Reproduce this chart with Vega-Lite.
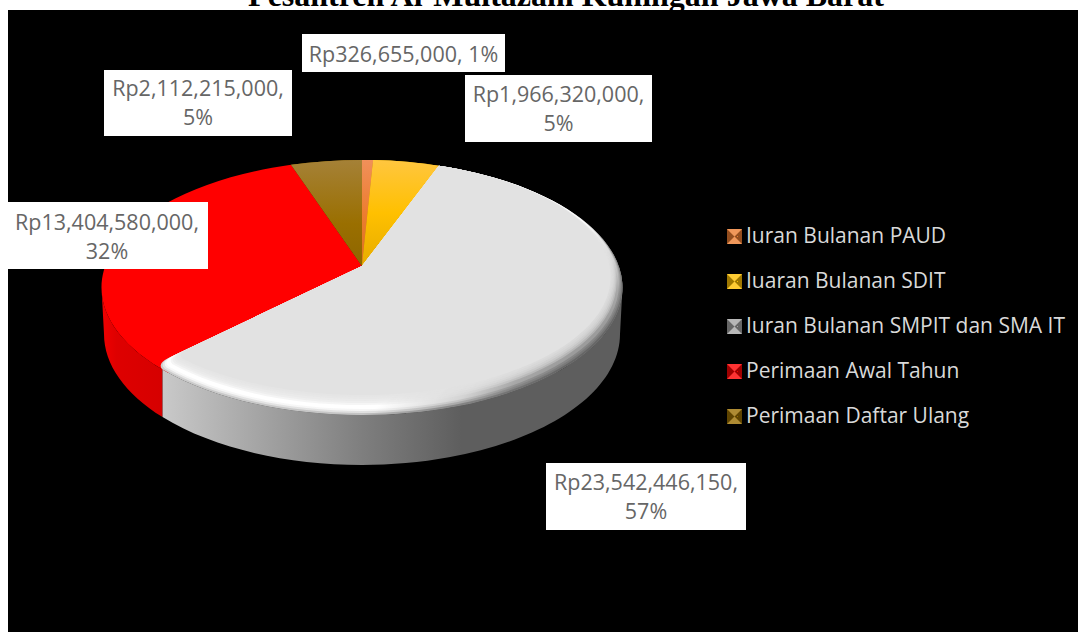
{
  "$schema": "https://vega.github.io/schema/vega-lite/v6.json",
  "width": 1070,
  "height": 622,
  "autosize": {"type": "none"},
  "padding": {"left": 8, "top": 10, "right": 0, "bottom": 0},
  "background": "#ffffff",
  "config": {"view": {"fill": "#000000", "stroke": null}},
  "data": {
    "values": [
      {"item": "Iuran Bulanan PAUD", "value": 326655000, "label": "Rp326,655,000, 1%"},
      {"item": "Iuaran Bulanan SDIT", "value": 1966320000, "label": "Rp1,966,320,000,\n5%"},
      {"item": "Iuran Bulanan SMPIT dan SMA IT", "value": 23542446150, "label": "Rp23,542,446,150,\n57%"},
      {"item": "Perimaan Awal Tahun", "value": 13404580000, "label": "Rp13,404,580,000,\n32%"},
      {"item": "Perimaan Daftar Ulang", "value": 2112215000, "label": "Rp2,112,215,000,\n5%"}
    ]
  },
  "transform": [
    {"window": [{"op": "sum", "field": "value", "as": "cum"}, {"op": "row_number", "as": "n"}]},
    {"joinaggregate": [{"op": "sum", "field": "value", "as": "total"}]},
    {"calculate": "2*PI*datum.cum/datum.total", "as": "a1"},
    {"calculate": "datum.a1-2*PI*datum.value/datum.total", "as": "a0"},
    {"calculate": "[0,0.1,0.2,0.3,0.5,0.6,0.7,0.8,0.9,1]", "as": "s"},
    {"flatten": ["s"]},
    {"calculate": "260.5-12*datum.s", "as": "rx"},
    {"calculate": "127.5-10*datum.s", "as": "ry"},
    {"calculate": "21.5-10*datum.s", "as": "ey"},
    {"calculate": "2.11*sin(datum.a0)", "as": "dx0"},
    {"calculate": "-cos(datum.a0)", "as": "dy0"},
    {"calculate": "2.11*sin(datum.a1)", "as": "dx1"},
    {"calculate": "-cos(datum.a1)", "as": "dy1"},
    {"calculate": "pow(datum.ey/datum.ry,2)-1", "as": "C"},
    {"calculate": "pow(datum.dx0/datum.rx,2)+pow(datum.dy0/datum.ry,2)", "as": "A0"},
    {"calculate": "-2*datum.dy0*datum.ey/(datum.ry*datum.ry)", "as": "B0"},
    {"calculate": "(-datum.B0+sqrt(datum.B0*datum.B0-4*datum.A0*datum.C))/(2*datum.A0)", "as": "t0"},
    {"calculate": "pow(datum.dx1/datum.rx,2)+pow(datum.dy1/datum.ry,2)", "as": "A1"},
    {"calculate": "-2*datum.dy1*datum.ey/(datum.ry*datum.ry)", "as": "B1"},
    {"calculate": "(-datum.B1+sqrt(datum.B1*datum.B1-4*datum.A1*datum.C))/(2*datum.A1)", "as": "t1"},
    {"calculate": "round(100*datum.t0*datum.dx0)/100", "as": "x0"},
    {"calculate": "round(100*datum.t0*datum.dy0)/100", "as": "y0"},
    {"calculate": "round(100*datum.t1*datum.dx1)/100", "as": "x1"},
    {"calculate": "round(100*datum.t1*datum.dy1)/100", "as": "y1"},
    {"calculate": "datum.x1+8", "as": "xc"},
    {"calculate": "round(100*(datum.ey+datum.ry*sqrt(1-pow(datum.xc/datum.rx,2))))/100", "as": "yc"},
    {"calculate": "round(93*datum.x1)/100", "as": "x93"},
    {"calculate": "round(93*datum.y1)/100", "as": "y93"},
    {"calculate": "round(99*datum.x1)/100", "as": "x99"},
    {"calculate": "round(99*datum.y1)/100", "as": "y99"},
    {"calculate": "datum.item==='Perimaan Awal Tahun'?datum.x0+14:datum.x0", "as": "xs"},
    {"calculate": "datum.item==='Perimaan Awal Tahun'?round(100*(datum.ey+datum.ry*sqrt(1-pow(datum.xs/datum.rx,2))))/100:datum.y0", "as": "ys"},
    {"calculate": "'M0,0L'+datum.xs+','+datum.ys+'A'+datum.rx+','+datum.ry+' 0 '+(datum.a1-datum.a0>PI?1:0)+' 1 '+(datum.item==='Iuran Bulanan SMPIT dan SMA IT'?datum.xc+','+datum.yc+'Q'+datum.x99+','+datum.y99+' '+datum.x93+','+datum.y93:datum.x1+','+datum.y1)+'Z'", "as": "wedge"},
    {"calculate": "(datum.item==='Perimaan Awal Tahun'?datum.x0:datum.x1)+8", "as": "xw"},
    {"calculate": "round(100*(21.5+127.5*sqrt(1-pow(datum.xw/260.5,2))))/100", "as": "yT"},
    {"calculate": "round(100*(68+131*sqrt(1-pow(datum.xw/258,2))))/100", "as": "yB"},
    {"calculate": "datum.item==='Perimaan Awal Tahun'?'M-260.5,21.5A260.5,127.5 0 0 0 '+datum.xw+','+datum.yT+'L'+datum.xw+','+datum.yB+'A258,131 0 0 1 -258,68Z':'M'+datum.xw+','+datum.yT+'L'+datum.xw+','+datum.yB+'A258,131 0 0 0 258,68L260.5,21.5A260.5,127.5 0 0 1 '+datum.xw+','+datum.yT+'Z'", "as": "wall"},
    {"calculate": "datum.n===1?[294,497,24,62,46]:datum.n===2?[457,644,65,132,86]:datum.n===3?[538,738,453,520,474]:datum.n===4?[-2,200,192,259,213.5]:[96,284,60,126,79.5]", "as": "box"},
    {"calculate": "datum.box[0]", "as": "bx1"},
    {"calculate": "datum.box[1]", "as": "bx2"},
    {"calculate": "datum.box[2]", "as": "by1"},
    {"calculate": "datum.box[3]", "as": "by2"},
    {"calculate": "(datum.bx1+datum.bx2)/2", "as": "tx"},
    {"calculate": "datum.box[4]", "as": "ty"},
    {"calculate": "226.5+45*(datum.n-1)", "as": "ky"},
    {"calculate": "354", "as": "cx"},
    {"calculate": "256", "as": "cy"},
    {"calculate": "726.5", "as": "kx"}
  ],
  "encoding": {
    "x": {"field": "cx", "type": "quantitative", "scale": {"domain": [0, 1070], "nice": false, "zero": false}, "axis": null},
    "y": {"field": "cy", "type": "quantitative", "scale": {"domain": [0, 622], "nice": false, "zero": false, "reverse": true}, "axis": null}
  },
  "layer": [
    {
      "transform": [{"filter": "datum.s===0 && datum.item==='Perimaan Awal Tahun'"}],
      "mark": {"type": "point", "filled": true, "opacity": 1, "strokeWidth": 0, "size": 4, "fill": {"gradient": "linear", "x1": 0, "y1": 0, "x2": 1, "y2": 0, "stops": [{"offset": 0, "color": "#F00000"}, {"offset": 0.25, "color": "#DE0000"}, {"offset": 1, "color": "#D60000"}]}},
      "encoding": {"shape": {"field": "wall", "type": "nominal", "scale": null, "legend": null}}
    },
    {
      "transform": [{"filter": "datum.s===0 && datum.item==='Iuran Bulanan SMPIT dan SMA IT'"}],
      "mark": {"type": "point", "filled": true, "opacity": 1, "strokeWidth": 0, "size": 4, "fill": {"gradient": "linear", "x1": 0, "y1": 0, "x2": 1, "y2": 0, "stops": [{"offset": 0, "color": "#C9C9C9"}, {"offset": 0.2, "color": "#A6A6A6"}, {"offset": 0.43, "color": "#7F7F7F"}, {"offset": 0.65, "color": "#5E5E5E"}, {"offset": 1, "color": "#5E5E5E"}]}},
      "encoding": {"shape": {"field": "wall", "type": "nominal", "scale": null, "legend": null}}
    },
    {
      "transform": [{"filter": "datum.s===0"}],
      "mark": {"type": "point", "filled": true, "opacity": 1, "strokeWidth": 0, "size": 4},
      "encoding": {
        "shape": {"field": "wedge", "type": "nominal", "scale": null, "legend": null},
        "color": {
          "field": "item",
          "type": "nominal",
          "scale": {
            "domain": ["Iuran Bulanan PAUD", "Iuaran Bulanan SDIT", "Iuran Bulanan SMPIT dan SMA IT", "Perimaan Awal Tahun", "Perimaan Daftar Ulang"],
            "range": ["#ED7D31", "#FFC000", "#A5A5A5", "#FF0000", "#9A6F00"]
          },
          "legend": {
            "title": null,
            "orient": "none",
            "legendX": 719,
            "legendY": 216,
            "symbolType": "square",
            "symbolSize": 1,
            "symbolStrokeWidth": 0,
            "labelFont": "Open Sans",
            "labelFontSize": 21,
            "labelColor": "#D9D9D9",
            "labelOffset": -2,
            "labelLimit": 400,
            "rowPadding": 23,
            "padding": 0
          }
        }
      }
    },
    {
      "transform": [{"filter": "datum.s===0 && datum.item==='Perimaan Daftar Ulang'"}],
      "mark": {"type": "point", "filled": true, "opacity": 1, "strokeWidth": 0, "size": 4, "fill": {"gradient": "linear", "x1": 0, "y1": 0, "x2": 0, "y2": 1, "stops": [{"offset": 0, "color": "#A58137"}, {"offset": 0.6, "color": "#9A6F00"}, {"offset": 1, "color": "#8E6600"}]}},
      "encoding": {"shape": {"field": "wedge", "type": "nominal", "scale": null, "legend": null}}
    },
    {
      "transform": [{"filter": "datum.s===0 && datum.item==='Iuran Bulanan PAUD'"}],
      "mark": {"type": "point", "filled": true, "opacity": 1, "strokeWidth": 0, "size": 4, "fill": {"gradient": "linear", "x1": 0, "y1": 0, "x2": 0, "y2": 1, "stops": [{"offset": 0, "color": "#F0905A"}, {"offset": 0.5, "color": "#ED7D31"}, {"offset": 1, "color": "#D9711F"}]}},
      "encoding": {"shape": {"field": "wedge", "type": "nominal", "scale": null, "legend": null}}
    },
    {
      "transform": [{"filter": "datum.s===0 && datum.item==='Iuaran Bulanan SDIT'"}],
      "mark": {"type": "point", "filled": true, "opacity": 1, "strokeWidth": 0, "size": 4, "fill": {"gradient": "linear", "x1": 0, "y1": 0, "x2": 0, "y2": 1, "stops": [{"offset": 0, "color": "#FFC63F"}, {"offset": 0.5, "color": "#FFC000"}, {"offset": 1, "color": "#E6AC00"}]}},
      "encoding": {"shape": {"field": "wedge", "type": "nominal", "scale": null, "legend": null}}
    },
    {
      "transform": [{"filter": "datum.s===0 && datum.item==='Iuran Bulanan SMPIT dan SMA IT'"}],
      "mark": {"type": "point", "filled": true, "opacity": 1, "strokeWidth": 0, "size": 4, "fill": {"gradient": "linear", "x1": 0, "y1": 0, "x2": 1, "y2": 0.6, "stops": [{"offset": 0, "color": "#D4D4D4"}, {"offset": 0.76, "color": "#C4C4C4"}, {"offset": 0.88, "color": "#8A8A8A"}, {"offset": 1, "color": "#666666"}]}},
      "encoding": {"shape": {"field": "wedge", "type": "nominal", "scale": null, "legend": null}}
    },
    {
      "transform": [{"filter": "datum.s===0.1 && datum.item==='Iuran Bulanan SMPIT dan SMA IT'"}],
      "mark": {"type": "point", "filled": true, "opacity": 0.5, "strokeWidth": 0, "size": 4, "fill": {"gradient": "linear", "x1": 0, "y1": 0, "x2": 1, "y2": 0.6, "stops": [{"offset": 0, "color": "#FFFFFF"}, {"offset": 0.78, "color": "#FFFFFF"}, {"offset": 0.9, "color": "#CDCDCD"}, {"offset": 0.96, "color": "#989898"}, {"offset": 1, "color": "#8C8C8C"}]}},
      "encoding": {"shape": {"field": "wedge", "type": "nominal", "scale": null, "legend": null}}
    },
    {
      "transform": [{"filter": "datum.s===0.2 && datum.item==='Iuran Bulanan SMPIT dan SMA IT'"}],
      "mark": {"type": "point", "filled": true, "opacity": 0.7, "strokeWidth": 0, "size": 4, "fill": {"gradient": "linear", "x1": 0, "y1": 0, "x2": 1, "y2": 0.6, "stops": [{"offset": 0, "color": "#FFFFFF"}, {"offset": 0.78, "color": "#FFFFFF"}, {"offset": 0.9, "color": "#CDCDCD"}, {"offset": 0.96, "color": "#989898"}, {"offset": 1, "color": "#8C8C8C"}]}},
      "encoding": {"shape": {"field": "wedge", "type": "nominal", "scale": null, "legend": null}}
    },
    {
      "transform": [{"filter": "datum.s===0.3 && datum.item==='Iuran Bulanan SMPIT dan SMA IT'"}],
      "mark": {"type": "point", "filled": true, "opacity": 1, "strokeWidth": 0, "size": 4, "fill": {"gradient": "linear", "x1": 0, "y1": 0, "x2": 1, "y2": 0.6, "stops": [{"offset": 0, "color": "#FFFFFF"}, {"offset": 0.78, "color": "#FFFFFF"}, {"offset": 0.9, "color": "#D4D4D4"}, {"offset": 0.96, "color": "#A8A8A8"}, {"offset": 1, "color": "#9C9C9C"}]}},
      "encoding": {"shape": {"field": "wedge", "type": "nominal", "scale": null, "legend": null}}
    },
    {
      "transform": [{"filter": "datum.s>0.3 && datum.s<1 && datum.item==='Iuran Bulanan SMPIT dan SMA IT'"}],
      "mark": {"type": "point", "filled": true, "opacity": 0.35, "strokeWidth": 0, "size": 4, "fill": "#E2E2E2"},
      "encoding": {"shape": {"field": "wedge", "type": "nominal", "scale": null, "legend": null}}
    },
    {
      "transform": [{"filter": "datum.s===1 && datum.item==='Iuran Bulanan SMPIT dan SMA IT'"}],
      "mark": {"type": "point", "filled": true, "opacity": 1, "strokeWidth": 0, "size": 4, "fill": "#E2E2E2"},
      "encoding": {"shape": {"field": "wedge", "type": "nominal", "scale": null, "legend": null}}
    },
    {
      "transform": [{"filter": "datum.s===0"}],
      "mark": {"type": "rect", "fill": "#FFFFFF", "opacity": 1},
      "encoding": {
        "x": {"field": "bx1", "type": "quantitative"},
        "x2": {"field": "bx2"},
        "y": {"field": "by1", "type": "quantitative"},
        "y2": {"field": "by2"}
      }
    },
    {
      "transform": [{"filter": "datum.s===0"}],
      "mark": {"type": "text", "font": "Open Sans", "fontSize": 21.5, "color": "#666666", "align": "center", "baseline": "middle", "lineBreak": "\n", "lineHeight": 29},
      "encoding": {
        "x": {"field": "tx", "type": "quantitative"},
        "y": {"field": "ty", "type": "quantitative"},
        "text": {"field": "label"}
      }
    },
    {
      "transform": [{"filter": "datum.s===0"}],
      "mark": {"type": "point", "filled": true, "opacity": 1, "strokeWidth": 0, "size": 225, "shape": "square"},
      "encoding": {
        "x": {"field": "kx", "type": "quantitative"},
        "y": {"field": "ky", "type": "quantitative"},
        "color": {"field": "item", "type": "nominal"}
      }
    },
    {
      "transform": [{"filter": "datum.s===0"}],
      "mark": {"type": "point", "filled": true, "opacity": 0.38, "strokeWidth": 0, "size": 4, "fill": "#000000", "shape": "M-7.5,-7.5L0,0L-7.5,7.5ZM7.5,-7.5L0,0L7.5,7.5Z"},
      "encoding": {
        "x": {"field": "kx", "type": "quantitative"},
        "y": {"field": "ky", "type": "quantitative"}
      }
    },
    {
      "transform": [{"filter": "datum.s===0"}],
      "mark": {"type": "point", "filled": true, "opacity": 0.2, "strokeWidth": 0, "size": 4, "fill": "#FFFFFF", "shape": "M-7.5,-7.5L0,0L7.5,-7.5ZM-7.5,7.5L0,0L7.5,7.5Z"},
      "encoding": {
        "x": {"field": "kx", "type": "quantitative"},
        "y": {"field": "ky", "type": "quantitative"}
      }
    },
    {
      "data": {"values": [{"title": "Pesantren Al-Multazam Kuningan Jawa Barat", "tx": 558, "ty": -4.5}]},
      "mark": {"type": "text", "font": "Liberation Serif", "fontSize": 32, "fontWeight": "bold", "color": "#000000", "align": "center", "baseline": "alphabetic", "clip": false},
      "encoding": {
        "x": {"field": "tx", "type": "quantitative"},
        "y": {"field": "ty", "type": "quantitative"},
        "text": {"field": "title"}
      }
    }
  ]
}
